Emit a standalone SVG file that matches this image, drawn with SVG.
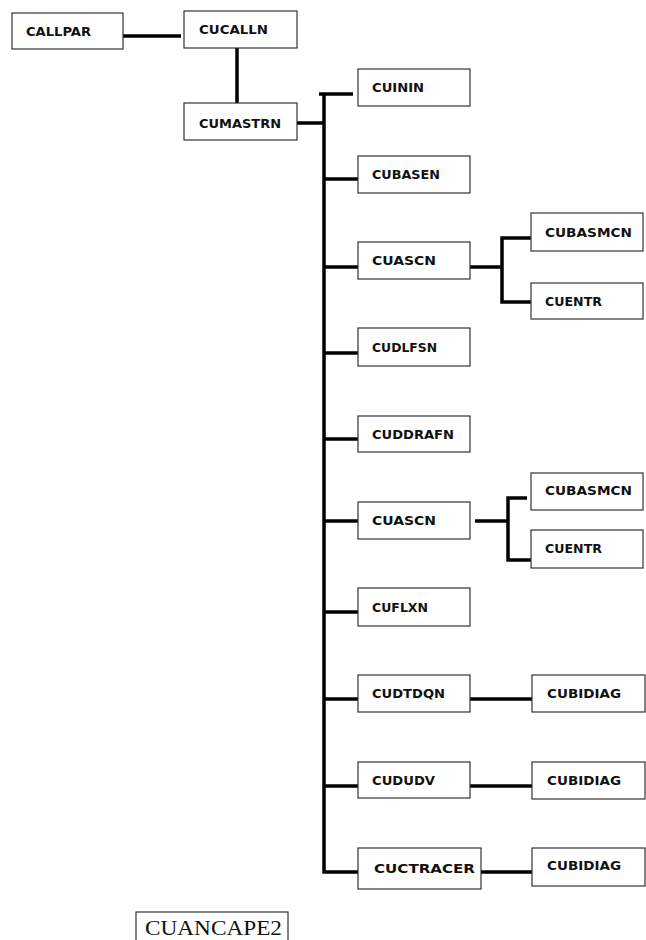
<svg xmlns="http://www.w3.org/2000/svg" width="646" height="940" viewBox="0 0 646 940">
<style>
.box{fill:#fff;stroke:#333;stroke-width:1.2}
.lbl{font-family:"DejaVu Sans",sans-serif;font-weight:bold;font-size:13px;fill:#111}
.ser{font-family:"Liberation Serif","Times New Roman",serif;font-size:22px;fill:#111}
.con{fill:none;stroke:#000;stroke-width:3.5;stroke-linejoin:miter;stroke-linecap:butt}
</style>
<rect width="646" height="940" fill="#fff"/>
<g id="connectors">
<path class="con" d="M123 36 H181"/>
<path class="con" d="M237 48 V103"/>
<path class="con" d="M297 123 H324"/>
<path class="con" d="M319 94 H353"/>
<path class="con" d="M324 94 V872 H358"/>
<path class="con" d="M324 179 H358"/>
<path class="con" d="M324 267 H358"/>
<path class="con" d="M324 353 H358"/>
<path class="con" d="M324 439 H358"/>
<path class="con" d="M324 521 H358"/>
<path class="con" d="M324 612 H358"/>
<path class="con" d="M324 699 H358"/>
<path class="con" d="M324 786 H358"/>
<path class="con" d="M470 267 H502"/>
<path class="con" d="M531 238 H502 V302 H531"/>
<path class="con" d="M475 521 H508"/>
<path class="con" d="M527 498 H508 V560 H531"/>
<path class="con" d="M470 699 H532"/>
<path class="con" d="M470 786 H532"/>
<path class="con" d="M481 872 H532"/>
</g>
<g id="n_callpar"><rect class="box" x="12" y="13" width="111" height="36"/><text class="lbl" x="26" y="36" textLength="65" lengthAdjust="spacingAndGlyphs">CALLPAR</text></g>
<g id="n_cucalln"><rect class="box" x="184" y="11" width="113" height="37"/><text class="lbl" x="199" y="34" textLength="69" lengthAdjust="spacingAndGlyphs">CUCALLN</text></g>
<g id="n_cumastrn"><rect class="box" x="184" y="103" width="113" height="37"/><text class="lbl" x="199" y="128" textLength="82" lengthAdjust="spacingAndGlyphs">CUMASTRN</text></g>
<g id="n_cuinin"><rect class="box" x="358" y="69" width="112" height="37"/><text class="lbl" x="372" y="92" textLength="52" lengthAdjust="spacingAndGlyphs">CUININ</text></g>
<g id="n_cubasen"><rect class="box" x="358" y="156" width="112" height="37"/><text class="lbl" x="372" y="179" textLength="68" lengthAdjust="spacingAndGlyphs">CUBASEN</text></g>
<g id="n_cuascn1"><rect class="box" x="358" y="242" width="112" height="37"/><text class="lbl" x="372" y="265" textLength="64" lengthAdjust="spacingAndGlyphs">CUASCN</text></g>
<g id="n_cubasmcn1"><rect class="box" x="531" y="213" width="112" height="38"/><text class="lbl" x="545" y="237" textLength="87" lengthAdjust="spacingAndGlyphs">CUBASMCN</text></g>
<g id="n_cuentr1"><rect class="box" x="531" y="283" width="112" height="36"/><text class="lbl" x="545" y="306" textLength="57" lengthAdjust="spacingAndGlyphs">CUENTR</text></g>
<g id="n_cudlfsn"><rect class="box" x="358" y="328" width="112" height="38"/><text class="lbl" x="372" y="352" textLength="65" lengthAdjust="spacingAndGlyphs">CUDLFSN</text></g>
<g id="n_cuddrafn"><rect class="box" x="358" y="416" width="112" height="36"/><text class="lbl" x="372" y="439" textLength="82" lengthAdjust="spacingAndGlyphs">CUDDRAFN</text></g>
<g id="n_cuascn2"><rect class="box" x="358" y="502" width="112" height="37"/><text class="lbl" x="372" y="525" textLength="64" lengthAdjust="spacingAndGlyphs">CUASCN</text></g>
<g id="n_cubasmcn2"><rect class="box" x="531" y="473" width="112" height="37"/><text class="lbl" x="545" y="495" textLength="87" lengthAdjust="spacingAndGlyphs">CUBASMCN</text></g>
<g id="n_cuentr2"><rect class="box" x="531" y="530" width="112" height="38"/><text class="lbl" x="545" y="553" textLength="57" lengthAdjust="spacingAndGlyphs">CUENTR</text></g>
<g id="n_cuflxn"><rect class="box" x="358" y="588" width="112" height="38"/><text class="lbl" x="372" y="612" textLength="56" lengthAdjust="spacingAndGlyphs">CUFLXN</text></g>
<g id="n_cudtdqn"><rect class="box" x="358" y="675" width="112" height="37"/><text class="lbl" x="372" y="698" textLength="73" lengthAdjust="spacingAndGlyphs">CUDTDQN</text></g>
<g id="n_cubidiag1"><rect class="box" x="532" y="675" width="113" height="37"/><text class="lbl" x="547" y="698" textLength="74" lengthAdjust="spacingAndGlyphs">CUBIDIAG</text></g>
<g id="n_cududv"><rect class="box" x="358" y="762" width="112" height="36"/><text class="lbl" x="372" y="785" textLength="63" lengthAdjust="spacingAndGlyphs">CUDUDV</text></g>
<g id="n_cubidiag2"><rect class="box" x="532" y="762" width="113" height="37"/><text class="lbl" x="547" y="785" textLength="74" lengthAdjust="spacingAndGlyphs">CUBIDIAG</text></g>
<g id="n_cuctracer"><rect class="box" x="358" y="848" width="123" height="41"/><text class="lbl" x="374" y="873" textLength="101" lengthAdjust="spacingAndGlyphs">CUCTRACER</text></g>
<g id="n_cubidiag3"><rect class="box" x="532" y="848" width="113" height="38"/><text class="lbl" x="547" y="870" textLength="74" lengthAdjust="spacingAndGlyphs">CUBIDIAG</text></g>
<g id="n_cuancape2"><rect class="box" x="136" y="912" width="152" height="40"/><text class="ser" x="145" y="935" textLength="137" lengthAdjust="spacingAndGlyphs">CUANCAPE2</text></g>
</svg>
